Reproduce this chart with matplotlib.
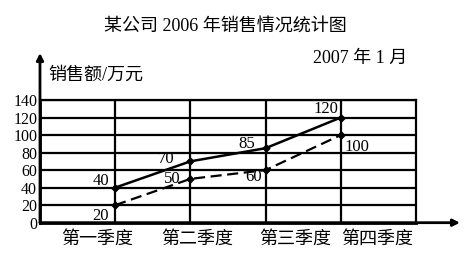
import matplotlib
matplotlib.use("Agg")
import matplotlib.pyplot as plt

plt.rcParams['font.family'] = ['Liberation Serif', 'Noto Sans CJK SC', 'DejaVu Sans']

quarters = ["第一季度", "第二季度", "第三季度", "第四季度"]
sales_solid = [40, 70, 85, 120]
sales_dashed = [20, 50, 60, 100]
yticks = [0, 20, 40, 60, 80, 100, 120, 140]
title = "某公司 2006 年销售情况统计图"
date_text = "2007 年 1 月"
ylabel = "销售额/万元"

# layout / style
x_pos = [1, 2, 3, 4]
label_pos = [0.76, 2.09, 3.40, 4.49]
solid_offsets = [(-14, 7), (-24, 2), (-19, 4), (-15, 9)]
dashed_offsets = [(-15, -11), (-18, 0), (-12, -7), (16, -12)]

fig = plt.figure(figsize=(4.65, 2.6), dpi=100)
ax = fig.add_axes([0.086, 0.1435, 0.8086, 0.4719])
ax.set_xlim(0, 5)
ax.set_ylim(0, 140)
ax.set_xticks([1, 2, 3, 4])
ax.set_xticklabels([])
ax.set_xticks(label_pos, minor=True)
ax.set_xticklabels(quarters, minor=True, fontsize=13)
ax.set_yticks(yticks)
ax.set_yticklabels([str(v) for v in yticks], fontsize=11.5)
ax.tick_params(axis='both', which='both', length=0)
ax.tick_params(axis='x', which='minor', pad=6)
ax.tick_params(axis='y', pad=2)
ax.grid(True, color='black', lw=1.6)
for s in ax.spines.values():
    s.set_linewidth(1.6)
ax.spines['left'].set_linewidth(2)
ax.spines['bottom'].set_linewidth(2)

ax.plot(x_pos, sales_solid, color='black', lw=1.8, marker='D', ms=3.5, zorder=5, clip_on=False)
ax.plot(x_pos, sales_dashed, color='black', lw=1.6, ls=(0, (5, 2.5)), marker='D', ms=3.5, zorder=5, clip_on=False)

for x, y, (dx, dy) in zip(x_pos, sales_solid, solid_offsets):
    ax.annotate(str(y), (x, y), xytext=(dx, dy), textcoords='offset pixels',
                ha='center', va='center', fontsize=12, zorder=6)
for x, y, (dx, dy) in zip(x_pos, sales_dashed, dashed_offsets):
    ax.annotate(str(y), (x, y), xytext=(dx, dy), textcoords='offset pixels',
                ha='center', va='center', fontsize=12, zorder=6)

# axis arrows
ax.annotate('', xy=(0, 1.383), xytext=(0, 0), xycoords='axes fraction',
            arrowprops=dict(arrowstyle='-|>', lw=2, color='black', mutation_scale=10,
                            shrinkA=0, shrinkB=0), annotation_clip=False)
ax.annotate('', xy=(1.117, 0), xytext=(0, 0), xycoords='axes fraction',
            arrowprops=dict(arrowstyle='-|>', lw=2, color='black', mutation_scale=10,
                            shrinkA=0, shrinkB=0), annotation_clip=False)

fig.text(0.484, 0.900, title, ha='center', va='center', fontsize=13)
fig.text(0.774, 0.777, date_text, ha='center', va='center', fontsize=13)
fig.text(0.103, 0.712, ylabel, ha='left', va='center', fontsize=13)

fig.savefig('out.png', dpi=100, facecolor='white')
